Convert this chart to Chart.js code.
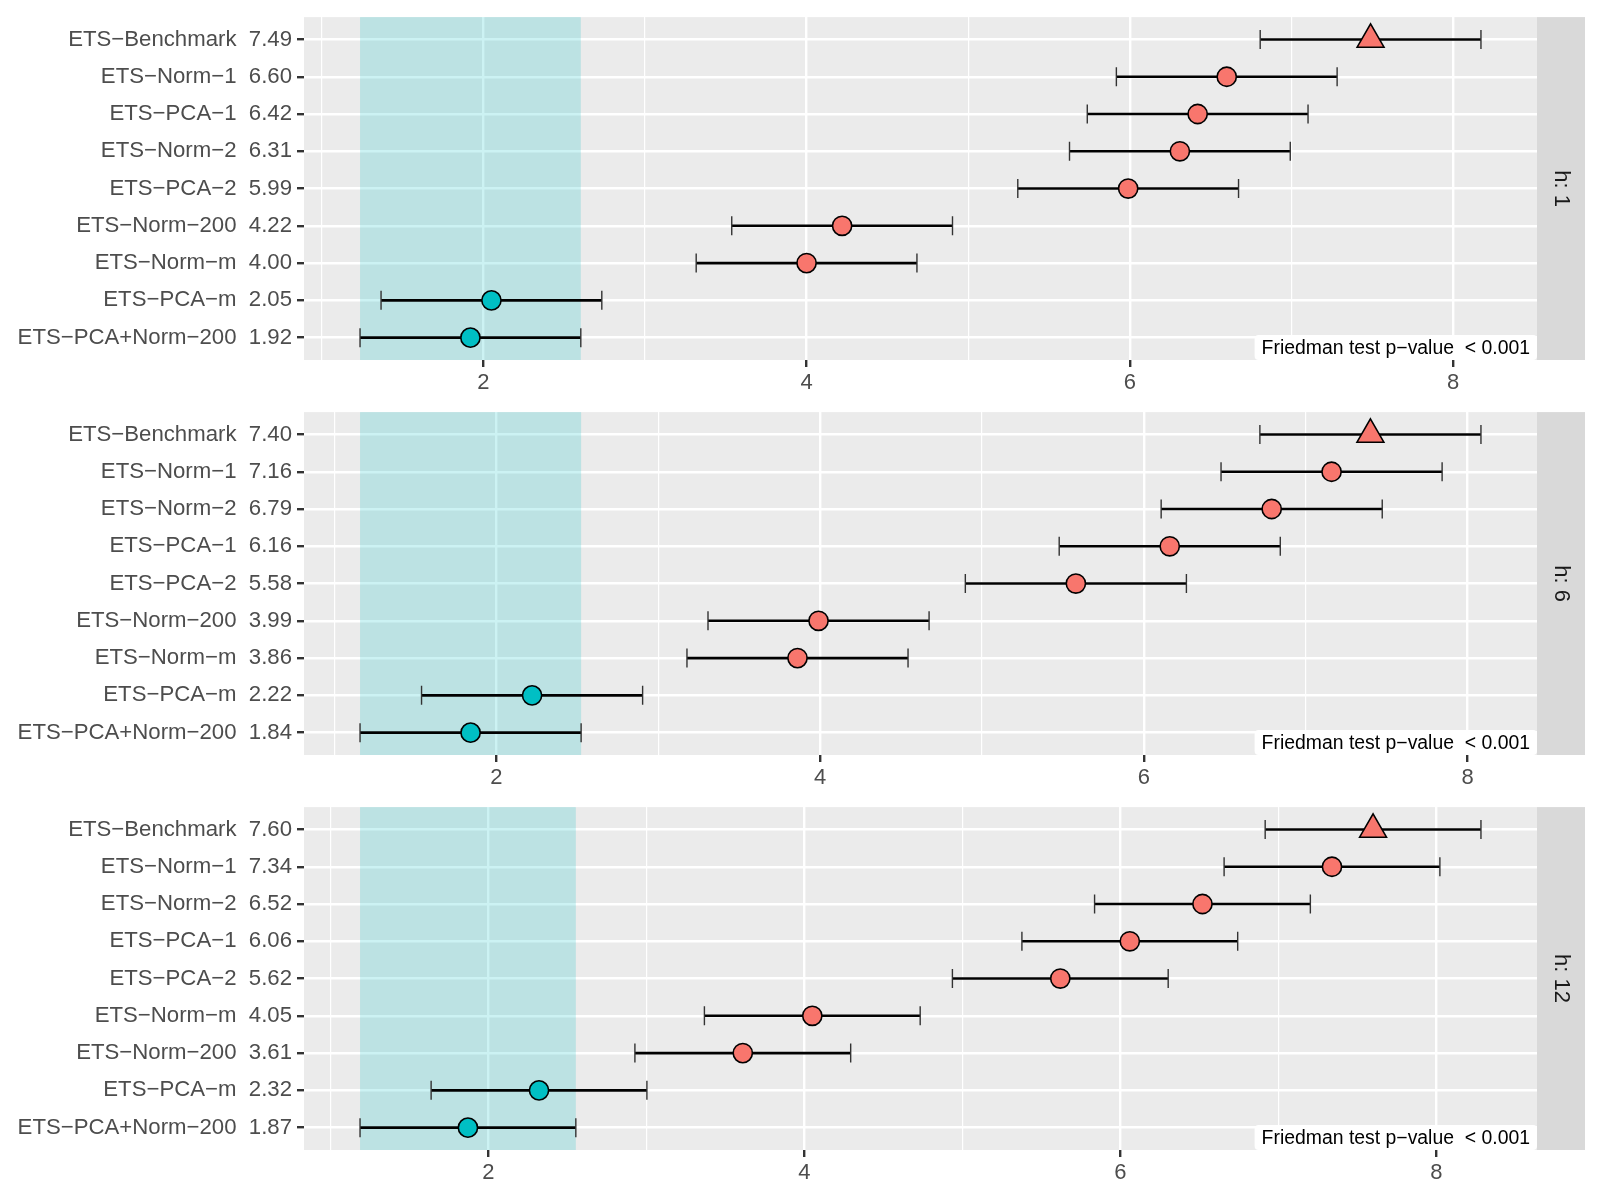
<!DOCTYPE html>
<html>
<head>
<meta charset="utf-8">
<script src="https://cdn.jsdelivr.net/npm/chart.js@4.4.1/dist/chart.umd.min.js"></script>
<style>
  body { margin: 0; background: #fff; }
  #wrap { position: relative; width: 1600px; height: 1200px; }
  canvas { position: absolute; left: 0; }
</style>
</head>
<body>
<div id="wrap">
  <canvas id="h1" width="1600" height="395" style="top:0"></canvas>
  <canvas id="h6" width="1600" height="395" style="top:395px"></canvas>
  <canvas id="h12" width="1600" height="395" style="top:790px"></canvas>
</div>
<script>
// --- Data (mean ranks, top to bottom) ---
const h1Models = ['ETS−Benchmark', 'ETS−Norm−1', 'ETS−PCA−1', 'ETS−Norm−2', 'ETS−PCA−2', 'ETS−Norm−200', 'ETS−Norm−m', 'ETS−PCA−m', 'ETS−PCA+Norm−200'];
const h1Ranks = [7.49, 6.60, 6.42, 6.31, 5.99, 4.22, 4.00, 2.05, 1.92];

const h6Models = ['ETS−Benchmark', 'ETS−Norm−1', 'ETS−Norm−2', 'ETS−PCA−1', 'ETS−PCA−2', 'ETS−Norm−200', 'ETS−Norm−m', 'ETS−PCA−m', 'ETS−PCA+Norm−200'];
const h6Ranks = [7.40, 7.16, 6.79, 6.16, 5.58, 3.99, 3.86, 2.22, 1.84];

const h12Models = ['ETS−Benchmark', 'ETS−Norm−1', 'ETS−Norm−2', 'ETS−PCA−1', 'ETS−PCA−2', 'ETS−Norm−m', 'ETS−Norm−200', 'ETS−PCA−m', 'ETS−PCA+Norm−200'];
const h12Ranks = [7.60, 7.34, 6.52, 6.06, 5.62, 4.05, 3.61, 2.32, 1.87];

const criticalDiff = 1.366;   // Nemenyi critical difference (bar spans rank ± CD/2)
const benchmarkName = 'ETS−Benchmark';
const pValueText = 'Friedman test p−value  < 0.001';

const FONT = '"Liberation Sans", Arial, Helvetica, sans-serif';
const salmon = '#F8766D';
const teal = '#00BFC4';

function makePanel(canvasId, stripText, models, ranks) {
    const half = criticalDiff / 2;
    const best = Math.min(...ranks);
    const lo = best - half;
    const hi = Math.max(...ranks) + half;
    const pad = (hi - lo) * 0.05;
    const colors = ranks.map(r => (r - best) < criticalDiff ? teal : salmon);
    const shapes = models.map(m => m === benchmarkName ? 'triangle' : 'circle');

    const panelPlugin = {
        id: 'panel_' + canvasId,
        beforeDraw(chart) {
            const { ctx, chartArea: a } = chart;
            ctx.save();
            ctx.fillStyle = '#EBEBEB';
            ctx.fillRect(a.left, a.top, a.right - a.left, a.bottom - a.top);
            ctx.restore();
        },
        beforeDatasetsDraw(chart) {
            const { ctx, chartArea: a, scales: { x, y } } = chart;
            ctx.save();
            // shaded interval of the best ranked model
            const b0 = x.getPixelForValue(best - half);
            const b1 = x.getPixelForValue(best + half);
            ctx.fillStyle = 'rgba(0,191,196,0.2)';
            ctx.fillRect(b0, a.top, b1 - b0, a.bottom - a.top);
            // error bars
            ranks.forEach((r, i) => {
                const py = y.getPixelForValue(i + 1);
                const x0 = x.getPixelForValue(r - half);
                const x1 = x.getPixelForValue(r + half);
                ctx.strokeStyle = '#000';
                ctx.lineWidth = 2.6;
                ctx.beginPath();
                ctx.moveTo(x0, py);
                ctx.lineTo(x1, py);
                ctx.stroke();
                ctx.strokeStyle = '#333';
                ctx.lineWidth = 1.4;
                ctx.beginPath();
                ctx.moveTo(x0, py - 9.5); ctx.lineTo(x0, py + 9.5);
                ctx.moveTo(x1, py - 9.5); ctx.lineTo(x1, py + 9.5);
                ctx.stroke();
            });
            ctx.restore();
        },
        afterDraw(chart) {
            const { ctx, chartArea: a } = chart;
            ctx.save();
            // facet strip
            ctx.fillStyle = '#D9D9D9';
            ctx.fillRect(a.right, a.top, 48, a.bottom - a.top);
            ctx.translate(a.right + 24, (a.top + a.bottom) / 2);
            ctx.rotate(Math.PI / 2);
            ctx.fillStyle = '#1A1A1A';
            ctx.font = '22px ' + FONT;
            ctx.textAlign = 'center';
            ctx.textBaseline = 'middle';
            ctx.fillText(stripText, 0, 0);
            ctx.restore();

            // p-value label
            ctx.save();
            ctx.font = '19.4px ' + FONT;
            const tw = ctx.measureText(pValueText).width;
            const bw = tw + 14, bh = 25;
            const bx = a.right - bw, by = a.bottom - bh;
            ctx.fillStyle = '#fff';
            ctx.beginPath();
            ctx.roundRect(bx, by, bw, bh, 4);
            ctx.fill();
            ctx.fillStyle = '#000';
            ctx.textAlign = 'left';
            ctx.textBaseline = 'middle';
            ctx.fillText(pValueText, bx + 7, by + bh / 2 + 1);
            ctx.restore();
        }
    };

    return new Chart(document.getElementById(canvasId), {
        type: 'scatter',
        data: {
            datasets: [{
                data: ranks.map((r, i) => ({ x: r, y: i + 1 })),
                pointStyle: shapes,
                pointRadius: shapes.map(s => s === 'triangle' ? 15.5 : 9.6),
                pointBackgroundColor: colors,
                pointBorderColor: '#000',
                pointBorderWidth: 1.6
            }]
        },
        options: {
            responsive: false,
            devicePixelRatio: 1,
            animation: false,
            events: [],
            layout: { padding: { left: 0, right: 63, top: 15, bottom: 0 } },
            plugins: { legend: { display: false }, tooltip: { enabled: false } },
            scales: {
                x: {
                    type: 'linear',
                    min: lo - pad,
                    max: hi + pad,
                    afterBuildTicks: s => {
                        const t = [];
                        for (let v = Math.ceil(s.min); v <= Math.floor(s.max); v++) t.push({ value: v });
                        s.ticks = t;
                    },
                    afterFit: s => {
                        s.height = 35;
                        s.paddingLeft = 0;
                        s.paddingRight = 0;
                    },
                    border: { display: false },
                    grid: {
                        color: '#fff',
                        lineWidth: c => (c.tick && c.tick.value % 2 === 0) ? 2.4 : 1.2,
                        tickColor: c => (c.tick && c.tick.value % 2 === 0) ? '#333' : 'rgba(0,0,0,0)',
                        tickLength: 7,
                        tickWidth: 2.4
                    },
                    ticks: {
                        color: '#4D4D4D',
                        font: { family: FONT, size: 22 },
                        padding: 3,
                        maxRotation: 0,
                        autoSkip: false,
                        callback: v => v % 2 === 0 ? String(v) : ''
                    }
                },
                y: {
                    type: 'linear',
                    reverse: true,
                    min: 0.4,
                    max: 9.6,
                    afterBuildTicks: s => { s.ticks = models.map((_, i) => ({ value: i + 1 })); },
                    afterFit: s => {
                        s.width = 304;
                        s.paddingTop = 0;
                        s.paddingBottom = 0;
                    },
                    border: { display: false },
                    grid: {
                        color: '#fff',
                        lineWidth: 2.4,
                        tickColor: '#333',
                        tickLength: 7,
                        tickWidth: 2.4
                    },
                    ticks: {
                        color: '#4D4D4D',
                        font: { family: FONT, size: 22.2 },
                        padding: 5,
                        autoSkip: false,
                        callback: v => `${models[v - 1]}  ${ranks[v - 1].toFixed(2)}`
                    }
                }
            }
        },
        plugins: [panelPlugin]
    });
}

makePanel('h1', 'h: 1', h1Models, h1Ranks);
makePanel('h6', 'h: 6', h6Models, h6Ranks);
makePanel('h12', 'h: 12', h12Models, h12Ranks);
</script>
</body>
</html>
